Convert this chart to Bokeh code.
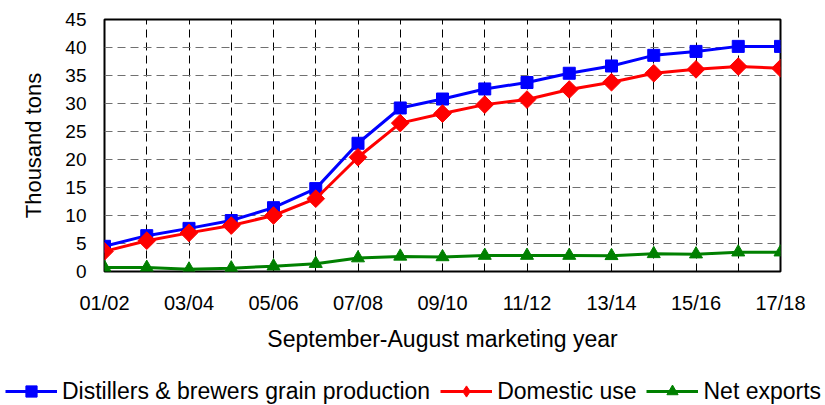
from bokeh.plotting import figure
from bokeh.models import FixedTicker, Legend, LegendItem
from bokeh.embed import file_html
from bokeh.resources import INLINE
import math

years = ["01/02", "02/03", "03/04", "04/05", "05/06", "06/07", "07/08", "08/09", "09/10",
         "10/11", "11/12", "12/13", "13/14", "14/15", "15/16", "16/17", "17/18"]
production = [4.5, 6.4, 7.7, 9.1, 11.4, 14.8, 22.9, 29.2, 30.8, 32.6, 33.75, 35.4, 36.7,
              38.6, 39.3, 40.2, 40.2]
domestic_use = [3.6, 5.5, 6.9, 8.2, 10.0, 13.0, 20.4, 26.5, 28.2, 29.8, 30.7, 32.5, 33.8,
                35.4, 36.1, 36.6, 36.3]
net_exports = [0.7, 0.7, 0.4, 0.6, 0.95, 1.4, 2.4, 2.7, 2.6, 2.85, 2.85, 2.85, 2.8,
               3.15, 3.1, 3.45, 3.45]
y_ticks = [0, 5, 10, 15, 20, 25, 30, 35, 40, 45]
series_names = ["Distillers & brewers grain production", "Domestic use", "Net exports"]

x = list(range(len(years)))
FONT = "Liberation Sans"

p = figure(frame_width=676, frame_height=252, x_range=(0, len(years) - 1), y_range=(0, 45),
           output_backend="svg", toolbar_location=None,
           min_border_left=104, min_border_right=44, min_border_top=19, min_border_bottom=106)
p.background_fill_color = "white"
p.border_fill_color = "white"
p.outline_line_color = "black"
p.outline_line_width = 2
p.outline_line_alpha = 1

# axes
p.xaxis.ticker = FixedTicker(ticks=list(range(0, len(years), 2)))
p.xaxis.major_label_overrides = {i: years[i] for i in range(0, len(years), 2)}
p.yaxis.ticker = FixedTicker(ticks=y_ticks)
for ax in (p.xaxis[0], p.yaxis[0]):
    ax.axis_line_color = None
    ax.major_tick_in = 0
    ax.major_tick_out = 0
    ax.minor_tick_line_color = None
    ax.major_label_text_font = FONT
    ax.major_label_text_color = "black"
    ax.axis_label_text_font = FONT
    ax.axis_label_text_font_style = "normal"
    ax.axis_label_text_color = "black"
p.xaxis.major_label_text_font_size = "20px"
p.yaxis.major_label_text_font_size = "19px"
p.xaxis.axis_label_text_font_size = "23px"
p.yaxis.axis_label_text_font_size = "22px"
p.xaxis.major_label_standoff = 20
p.yaxis.major_label_standoff = 18
p.xaxis.axis_label = "September-August marketing year"
p.yaxis.axis_label = "Thousand tons"
p.xaxis.axis_label_standoff = 9
p.yaxis.axis_label_standoff = 16

# grids
p.xgrid.ticker = FixedTicker(ticks=x)
p.xgrid.grid_line_color = "black"
p.xgrid.grid_line_dash = "8 5"
p.xgrid.grid_line_width = 1
p.ygrid.ticker = FixedTicker(ticks=y_ticks)
p.ygrid.grid_line_color = "#707070"
p.ygrid.grid_line_dash = "8 5"
p.ygrid.grid_line_width = 1

styles = [
    dict(color="#0000FF", marker="square", size=12, angle=0.0, lmarker="square"),
    dict(color="#FF0000", marker="square", size=12.5, angle=math.pi / 4, lmarker="diamond"),
    dict(color="#008000", marker="triangle", size=13, angle=0.0, lmarker="triangle"),
]
series = [production, domestic_use, net_exports]

for vals, st in zip(series, styles):
    p.line(x, vals, line_color=st["color"], line_width=3)
    p.scatter(x, vals, marker=st["marker"], size=st["size"], angle=st["angle"],
              fill_color=st["color"], line_color=st["color"])

# legend strip below the chart (its own small figure, glyphs kept out of view)
lg = figure(width=824, height=28, x_range=(0, 1), y_range=(-1000, -999),
            output_backend="svg", toolbar_location=None,
            x_axis_location=None, y_axis_location=None, min_border=0)
lg.outline_line_color = None
lg.grid.visible = False
lg.background_fill_color = "white"
lg.border_fill_color = "white"
items = []
for name, vals, st in zip(series_names, series, styles):
    r1 = lg.line(x, vals, line_color=st["color"], line_width=3)
    r2 = lg.scatter(x, vals, marker=st["lmarker"], size=12,
                    fill_color=st["color"], line_color=st["color"])
    items.append(LegendItem(label=name, renderers=[r1, r2]))

legend = Legend(items=items, location=(5, 0), orientation="horizontal")
legend.border_line_color = None
legend.background_fill_alpha = 0
legend.padding = 0
legend.margin = 0
legend.spacing = 10
legend.glyph_width = 52
legend.glyph_height = 28
legend.label_height = 20
legend.label_standoff = 5
legend.label_text_font = FONT
legend.label_text_font_size = "23px"
legend.label_text_color = "black"
lg.add_layout(legend)

open("out.html", "w").write(file_html([p, lg], INLINE))
